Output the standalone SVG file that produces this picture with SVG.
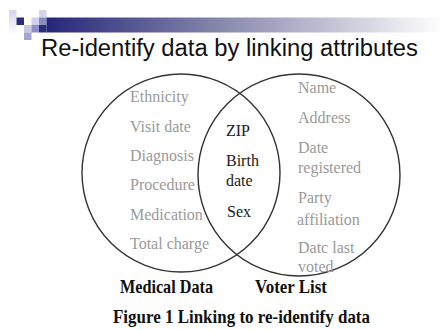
<svg xmlns="http://www.w3.org/2000/svg" width="443" height="330" viewBox="0 0 443 330">
<defs>
<linearGradient id="bar" x1="0" y1="0" x2="1" y2="0">
<stop offset="0" stop-color="#26267a"/>
<stop offset="0.45" stop-color="#8a8aae"/>
<stop offset="1" stop-color="#ffffff"/>
</linearGradient>
<linearGradient id="fade" x1="0" y1="0" x2="0" y2="1">
<stop offset="0" stop-color="#d4d4ea"/>
<stop offset="1" stop-color="#ffffff"/>
</linearGradient>
<style>
.ring{fill:none;stroke:#333;stroke-width:1.4}
.g{font-family:"Liberation Serif","Times New Roman",serif;font-size:16px;fill:#9a9a9a}
.k{font-family:"Liberation Serif","Times New Roman",serif;font-size:16px;fill:#1a1a1a}
.b{font-family:"Liberation Serif","Times New Roman",serif;font-size:16px;font-weight:bold;fill:#111}
.t{font-family:"Liberation Sans",Arial,sans-serif;font-size:23px;fill:#111}
</style>
</defs>
<g id="header">
<rect x="9" y="10" width="7.5" height="25" fill="url(#fade)"/>
<rect x="16.5" y="17.5" width="7.5" height="7.5" fill="#2c2c7c"/>
<rect x="31.5" y="17.5" width="7.5" height="7.5" fill="#d0d0e8"/>
<rect x="39" y="10" width="7.5" height="7.5" fill="#d4d4ea"/>
<rect x="39" y="17.5" width="7.5" height="7.5" fill="#8c8cc4"/>
<rect x="24" y="25" width="7.5" height="7.5" fill="#c8c8e2"/>
<rect x="31.5" y="25" width="7.5" height="7.5" fill="#9090c8"/>
<rect x="24" y="32.5" width="7.5" height="7.5" fill="#a4a4d2"/>
<rect x="39" y="25" width="7.5" height="7.5" fill="#2c2c7c"/>
<rect x="46.5" y="17.5" width="396.5" height="15" fill="url(#bar)"/>
<text class="t" x="41" y="56" textLength="377" lengthAdjust="spacingAndGlyphs">Re-identify data by linking attributes</text>
</g>
<g id="connectors">
<circle class="ring" cx="181" cy="173" r="99"/>
<circle class="ring" cx="299" cy="175" r="101"/>
</g>
<g id="medical-data">
<text class="g" x="130" y="102">Ethnicity</text>
<text class="g" x="130" y="132">Visit date</text>
<text class="g" x="130" y="161">Diagnosis</text>
<text class="g" x="130" y="190">Procedure</text>
<text class="g" x="130" y="220">Medication</text>
<text class="g" x="130" y="249">Total charge</text>
<text class="b" transform="translate(120,293) scale(1,1.2)" x="0" y="0" textLength="93" lengthAdjust="spacingAndGlyphs">Medical Data</text>
</g>
<g id="shared">
<text class="k" x="226" y="136">ZIP</text>
<text class="k" x="226" y="166">Birth</text>
<text class="k" x="226" y="186">date</text>
<text class="k" x="227" y="217">Sex</text>
</g>
<g id="voter-list">
<text class="g" x="298" y="93">Name</text>
<text class="g" x="298" y="123">Address</text>
<text class="g" x="298" y="153">Date</text>
<text class="g" x="298" y="173">registered</text>
<text class="g" x="298" y="203">Party</text>
<text class="g" x="297" y="225">affiliation</text>
<text class="g" x="298" y="253">Datc last</text>
<text class="g" x="298" y="272">voted</text>
<text class="b" transform="translate(255,293) scale(1,1.2)" x="0" y="0" textLength="72" lengthAdjust="spacingAndGlyphs">Voter List</text>
</g>
<g id="caption">
<text class="b" transform="translate(113,323) scale(1,1.2)" x="0" y="0" textLength="257" lengthAdjust="spacingAndGlyphs">Figure 1 Linking to re-identify data</text>
</g>
</svg>
